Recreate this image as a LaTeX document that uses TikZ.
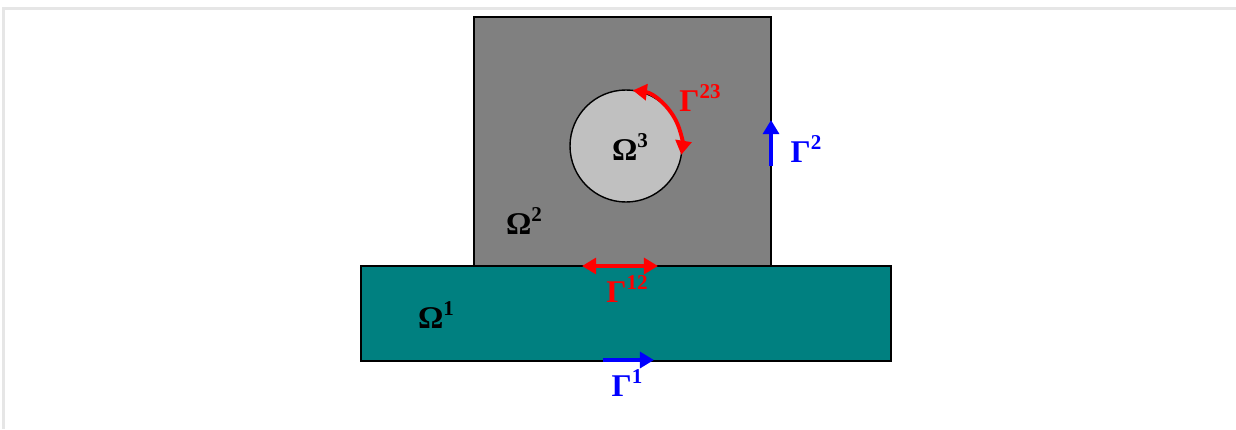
\documentclass[tikz,border=0pt]{standalone}
\usepackage{fontspec}
\setmainfont{Liberation Serif}
\usetikzlibrary{arrows.meta}
\definecolor{tealfill}{HTML}{008080}
\definecolor{darkfill}{HTML}{808080}
\definecolor{lightfill}{HTML}{C0C0C0}
\definecolor{framegray}{HTML}{E6E6E6}
\newcommand{\sym}[2]{#1\raisebox{0.42em}{\fontsize{12}{12}\selectfont #2}}
\tikzset{
  lbl/.style={font=\bfseries\fontsize{18}{18}\selectfont, inner sep=0pt},
  bdtip/.tip={Triangle[length=8pt,width=9pt]},
  bnd/.style={line width=2.2pt},
}
\begin{document}
\begin{tikzpicture}[x=0.02cm,y=-0.02cm]
    \useasboundingbox (0,0) rectangle (1236,429);
    \draw [framegray, line width=1.2pt] (3.5,429) -- (3.5,8.5) -- (1236,8.5);
    % domains
    \draw [fill=darkfill, line width=0.8pt] (474,17) rectangle (771,266);
    \draw [fill=tealfill, line width=0.8pt] (361,266) rectangle (891,361);
    \draw [fill=lightfill, line width=0.8pt] (626,146) circle (56);
    % interfaces
    \draw [red, bnd, bdtip-bdtip] (626,146) ++(-83:56) arc (-83:9:56);
    \draw [red, bnd, bdtip-bdtip] (582,266) -- (658,266);
    \draw [blue, bnd, -bdtip] (771,166) -- (771,120);
    \draw [blue, bnd, -bdtip] (603,360) -- (654,360);
    % labels
    \node [lbl] (om1) at (436,315) {\sym{Ω}{1}};
    \node [lbl] (om2) at (524,221) {\sym{Ω}{2}};
    \node [lbl] (om3) at (630,147) {\sym{Ω}{3}};
    \node [lbl, red] (ga12) at (627,289) {\sym{Γ}{12}};
    \node [lbl, red] (ga23) at (700,98) {\sym{Γ}{23}};
    \node [lbl, blue] (ga2) at (806,149) {\sym{Γ}{2}};
    \node [lbl, blue] (ga1) at (627,383) {\sym{Γ}{1}};
\end{tikzpicture}
\end{document}
